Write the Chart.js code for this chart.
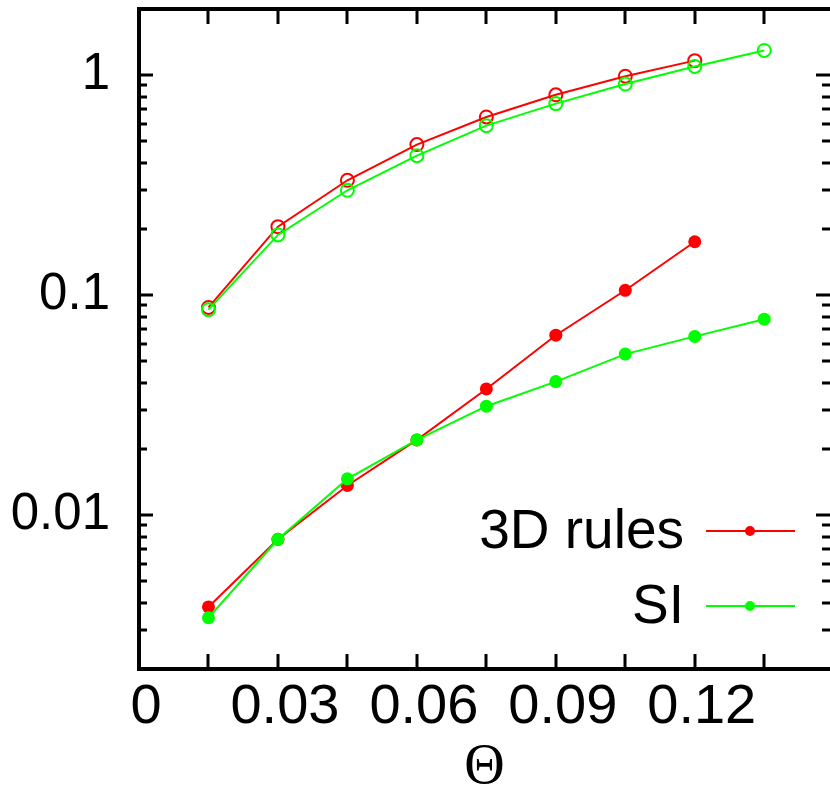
<!DOCTYPE html>
<html>
<head>
<meta charset="utf-8">
<script src="https://cdn.jsdelivr.net/npm/chart.js@4"></script>
<style>
  body { margin: 0; background: #fff; }
</style>
</head>
<body>
<canvas id="myChart" width="830" height="788"></canvas>
<script>
// Theta values and the four series
const theta = [0.015, 0.03, 0.045, 0.06, 0.075, 0.09, 0.105, 0.12, 0.135];
const rulesOpen = [0.088, 0.205, 0.333, 0.484, 0.646, 0.815, 0.99, 1.165];
const siOpen = [0.086, 0.188, 0.3, 0.431, 0.59, 0.743, 0.912, 1.096, 1.296];
const rulesFilled = [0.00383, 0.00777, 0.01365, 0.022, 0.0375, 0.0658, 0.1053, 0.175];
const siFilled = [0.00342, 0.00777, 0.01464, 0.022, 0.0313, 0.0405, 0.054, 0.065, 0.0778];

const xTickMarks = [0, 0.015, 0.03, 0.045, 0.06, 0.075, 0.09, 0.105, 0.12, 0.135];
const xTickLabels = [0, 0.03, 0.06, 0.09, 0.12];
const yTickLabels = [0.01, 0.1, 1];
const yMinorTicks = [0.002, 0.003, 0.004, 0.005, 0.006, 0.007, 0.008, 0.009,
  0.02, 0.03, 0.04, 0.05, 0.06, 0.07, 0.08, 0.09,
  0.2, 0.3, 0.4, 0.5, 0.6, 0.7, 0.8, 0.9, 2];

const RED = "#ff0000";
const GREEN = "#00ff00";

function pts(ys) {
  return ys.map((y, i) => ({ x: theta[i], y: y }));
}

// frame with inward ticks on all sides + legend inside the plot
const framePlugin = {
  id: "frame",
  afterDraw(chart) {
    const ctx = chart.ctx;
    const a = chart.chartArea;
    const xs = chart.scales.x;
    const ys = chart.scales.y;
    ctx.save();
    ctx.strokeStyle = "#000";
    ctx.lineWidth = 3;
    ctx.lineCap = "butt";
    ctx.beginPath();
    xTickMarks.forEach((v) => {
      const px = Math.round(xs.getPixelForValue(v));
      ctx.moveTo(px, a.bottom);
      ctx.lineTo(px, a.bottom - 15);
      ctx.moveTo(px, a.top);
      ctx.lineTo(px, a.top + 15);
    });
    yTickLabels.forEach((v) => {
      const py = Math.round(ys.getPixelForValue(v));
      ctx.moveTo(a.left, py);
      ctx.lineTo(a.left + 14, py);
      ctx.moveTo(a.right, py);
      ctx.lineTo(a.right - 14, py);
    });
    yMinorTicks.forEach((v) => {
      const py = Math.round(ys.getPixelForValue(v));
      ctx.moveTo(a.left, py);
      ctx.lineTo(a.left + 8, py);
      ctx.moveTo(a.right, py);
      ctx.lineTo(a.right - 8, py);
    });
    ctx.stroke();

    ctx.lineWidth = 4;
    ctx.beginPath();
    ctx.moveTo(a.right + 2, a.top);
    ctx.lineTo(a.left, a.top);
    ctx.lineTo(a.left, a.bottom);
    ctx.lineTo(a.right + 2, a.bottom);
    ctx.stroke();

    // legend
    const entries = [
      { label: "3D rules", color: RED, y: 531 },
      { label: "SI", color: GREEN, y: 606 },
    ];
    ctx.font = "55px 'Liberation Sans'";
    ctx.textAlign = "right";
    ctx.textBaseline = "middle";
    entries.forEach((e) => {
      ctx.fillStyle = "#000";
      ctx.fillText(e.label, 684, e.y + 2);
      ctx.strokeStyle = e.color;
      ctx.lineWidth = 2;
      ctx.beginPath();
      ctx.moveTo(706, e.y);
      ctx.lineTo(795, e.y);
      ctx.stroke();
      ctx.fillStyle = e.color;
      ctx.beginPath();
      ctx.arc(750, e.y, 5, 0, Math.PI * 2);
      ctx.fill();
    });
    ctx.restore();
  },
};

function noPad(scale) {
  scale.paddingTop = 0;
  scale.paddingBottom = 0;
  scale.paddingLeft = 0;
  scale.paddingRight = 0;
}

const contexto = document.getElementById("myChart").getContext("2d");

const myChart = new Chart(contexto, {
  type: "scatter",
  data: {
    datasets: [
      {
        label: "3D rules",
        data: pts(rulesFilled),
        showLine: true,
        borderColor: RED,
        backgroundColor: RED,
        borderWidth: 2,
        pointRadius: 6.5,
        pointBorderWidth: 0,
        order: 2,
      },
      {
        label: "SI",
        data: pts(siFilled),
        showLine: true,
        borderColor: GREEN,
        backgroundColor: GREEN,
        borderWidth: 2,
        pointRadius: 6.5,
        pointBorderWidth: 0,
        order: 1,
      },
      {
        label: "3D rules (open)",
        data: pts(rulesOpen),
        showLine: true,
        borderColor: RED,
        backgroundColor: "rgba(0,0,0,0)",
        borderWidth: 2,
        pointRadius: 6.5,
        pointBorderWidth: 2,
        order: 4,
      },
      {
        label: "SI (open)",
        data: pts(siOpen),
        showLine: true,
        borderColor: GREEN,
        backgroundColor: "rgba(0,0,0,0)",
        borderWidth: 2,
        pointRadius: 6.5,
        pointBorderWidth: 2,
        order: 3,
      },
    ],
  },
  options: {
    responsive: false,
    animation: false,
    layout: { autoPadding: false, padding: { top: 9, right: 0, left: 0, bottom: 0 } },
    plugins: {
      legend: { display: false },
      tooltip: { enabled: false },
    },
    scales: {
      x: {
        type: "linear",
        min: 0,
        max: 0.1492,
        grid: { display: false, drawTicks: false },
        border: { display: false },
        afterBuildTicks: (scale) => {
          scale.ticks = xTickMarks.map((v) => ({ value: v }));
        },
        afterFit: (scale) => {
          scale.height = 119;
          noPad(scale);
        },
        ticks: {
          autoSkip: false,
          maxRotation: 0,
          padding: 5,
          labelOffset: 7,
          color: "#000",
          font: { family: "'Liberation Sans'", size: 56 },
          callback: (v) => (xTickLabels.some((l) => Math.abs(l - v) < 1e-9) ? String(v) : ""),
        },
        title: {
          display: true,
          text: "Θ",
          color: "#000",
          font: { family: "'Liberation Serif'", size: 56, lineHeight: 0.9 },
          padding: { top: 0, bottom: -5 },
        },
      },
      y: {
        type: "logarithmic",
        min: 0.002,
        max: 2,
        grid: { display: false, drawTicks: false },
        border: { display: false },
        afterBuildTicks: (scale) => {
          scale.ticks = yTickLabels.map((v) => ({ value: v }));
        },
        afterFit: (scale) => {
          scale.width = 139;
          noPad(scale);
        },
        ticks: {
          padding: 29,
          color: "#000",
          font: { family: "'Liberation Sans'", size: 51 },
          callback: (v) => String(v),
        },
      },
    },
  },
  plugins: [framePlugin],
});
</script>
</body>
</html>
